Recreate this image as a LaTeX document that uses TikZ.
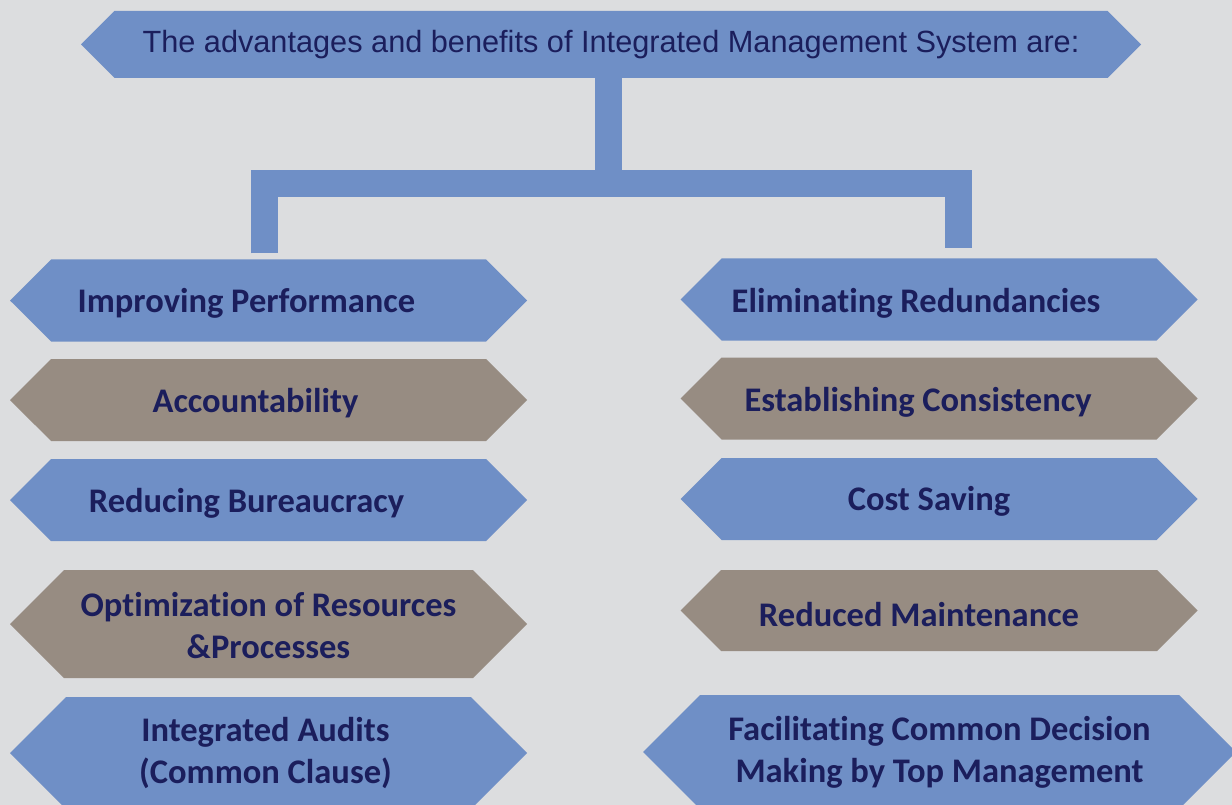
\documentclass[tikz,border=0pt]{standalone}
\usepackage{fontspec}
\newfontfamily\carlito[Ligatures=NoCommon]{Carlito}
\newfontfamily\arialish{Liberation Sans}
\usetikzlibrary{positioning}
\usetikzlibrary{shapes.symbols}

\definecolor{pagebg}{HTML}{DCDDDF}
\definecolor{imsblue}{HTML}{6F8FC6}
\definecolor{imsgray}{HTML}{978C82}
\definecolor{imsnavy}{HTML}{1B1E5C}

\tikzset{
  hex/.style={signal, signal to=west and east, signal pointer angle=90,
    minimum width=517pt, minimum height=82pt, inner sep=0pt, draw=none},
  hexblue/.style={hex, fill=imsblue},
  hexgray/.style={hex, fill=imsgray},
  lbl/.style={font=\carlito\bfseries\fontsize{34.5}{42}\selectfont, text=imsnavy, align=center},
  bar/.style={draw=imsblue, line width=27pt, line join=miter},
}

\begin{document}
\begin{tikzpicture}[x=1pt, y=-1pt]
  \fill [pagebg] (0, 0) rectangle (1232, 805);
  \useasboundingbox (0, 0) rectangle (1232, 805);
  \clip (0, 0) rectangle (1232, 805);

  % title banner
  \node [hexblue, minimum width=1060pt, minimum height=67pt] (title) at (611, 44.5) {};
  \node [font=\arialish\fontsize{30.7}{36}\selectfont, text=imsnavy] (title-txt) at (title.center) {The advantages and benefits of Integrated Management System are:};

  % left column
  \node [hexblue] (perf) at (268.5, 300.5) {};
  \node [hexgray] (account) at (268.5, 400) {};
  \node [hexblue] (bureau) at (268.5, 500) {};
  \node [hexgray, minimum height=108pt] (optim) at (268.5, 624) {};
  \node [hexblue, minimum height=112pt] (audits) at (268.5, 753) {};

  \node [lbl] (perf-txt) at ([xshift=-22pt, yshift=-3pt]perf.center) {Improving Performance};
  \node [lbl] (account-txt) at ([xshift=-13pt, yshift=-3pt]account.center) {Accountability};
  \node [lbl] (bureau-txt) at ([xshift=-22pt, yshift=-3pt]bureau.center) {Reducing Bureaucracy};
  \node [lbl] (optim-txt) at ([yshift=-2pt]optim.center) {Optimization of Resources\\\&Processes};
  \node [lbl] (audits-txt) at ([xshift=-3pt]audits.center) {Integrated Audits\\(Common Clause)};

  % right column
  \node [hexblue] (redund) at (939, 299.5) {};
  \node [hexgray] (consist) at (939, 398.5) {};
  \node [hexblue] (cost) at (939, 499) {};
  \node [hexgray, minimum height=81pt] (maint) at (939, 610.5) {};
  \node [hexblue, minimum width=593pt, minimum height=114pt] (decide) at (939.5, 752) {};

  \node [lbl] (redund-txt) at ([xshift=-23pt, yshift=-4pt]redund.center) {Eliminating Redundancies};
  \node [lbl] (consist-txt) at ([xshift=-21pt, yshift=-4pt]consist.center) {Establishing Consistency};
  \node [lbl] (cost-txt) at ([xshift=-10pt, yshift=-2pt]cost.center) {Cost Saving};
  \node [lbl] (maint-txt) at ([xshift=-20pt, yshift=-4pt]maint.center) {Reduced Maintenance};
  \node [lbl] (decide-txt) at (decide.center) {Facilitating Common Decision\\Making by Top Management};

  % connector
  \coordinate (split) at (608.5, 184);
  \draw [bar] ([xshift=-2.5pt]title.south) -- (split);
  \draw [bar] ([xshift=-4pt, yshift=6pt]perf.north) |- (split) -| ([xshift=19.5pt, yshift=10pt]redund.north);
\end{tikzpicture}
\end{document}
